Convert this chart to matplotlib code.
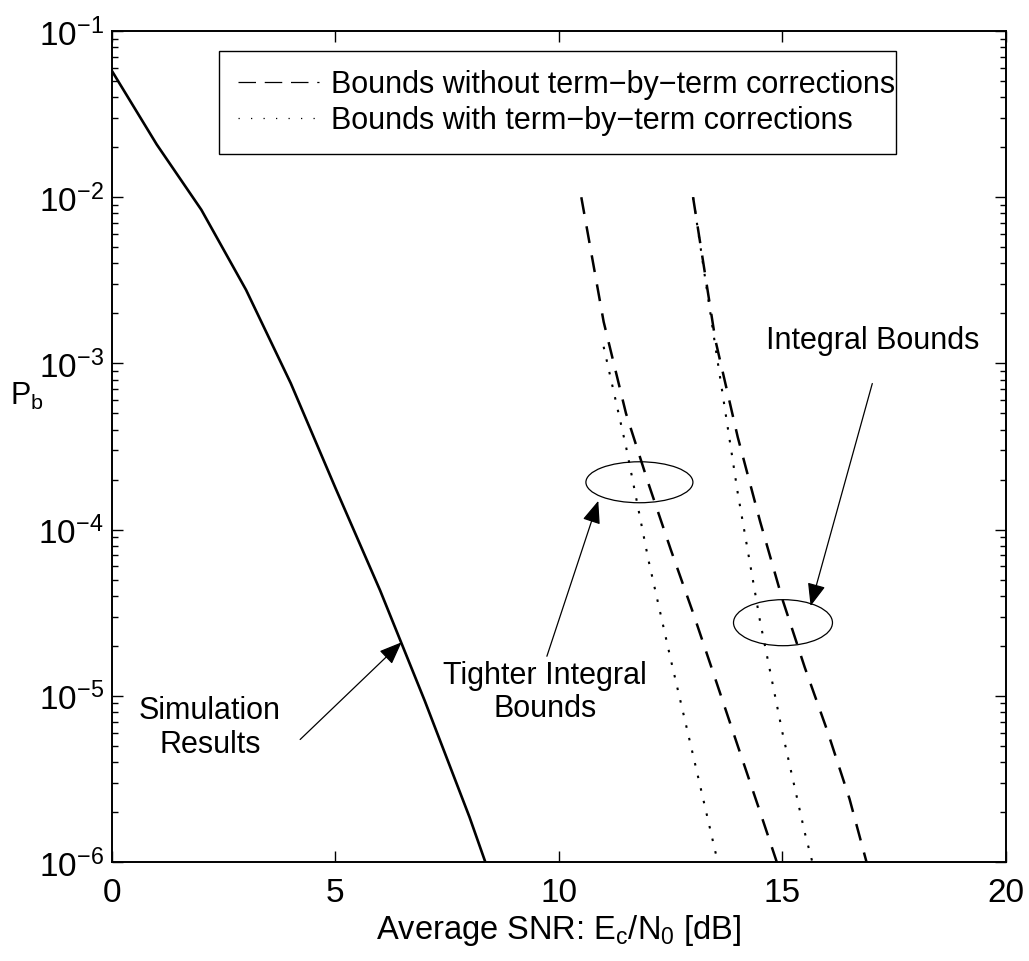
"""Bit error probability bounds vs. simulation (log-scale BER plot)."""

import matplotlib

matplotlib.use("Agg")
import matplotlib.pyplot as plt
from matplotlib.lines import Line2D
from matplotlib.patches import Ellipse

plt.rcParams["font.family"] = ["Liberation Sans", "DejaVu Sans"]
plt.rcParams["mathtext.default"] = "regular"
plt.rcParams["font.size"] = 22

# Simulation results
sim_snr = [0, 1, 2, 3, 4, 5, 6, 7, 8, 9]
sim_pb = [5.75e-2, 2.08e-2, 8.4e-3, 2.77e-3, 7.6e-4, 1.78e-4, 4.3e-5, 9.3e-6, 1.86e-6, 3.2e-7]

# Tighter integral bounds, without term-by-term corrections
tight_snr = [10.5, 11.0, 11.5, 12.0, 12.5, 13.0, 13.5, 14.0, 14.5, 15.0]
tight_pb = [1.0e-2, 1.78e-3, 5.0e-4, 1.9e-4, 7.6e-5, 3.16e-5, 1.26e-5, 5.0e-6, 2.0e-6, 7.9e-7]

# Tighter integral bounds, with term-by-term corrections
tight_corr_snr = [11.0, 11.5, 12.0, 12.5, 13.0, 13.5, 14.0]
tight_corr_pb = [1.26e-3, 3.16e-4, 6.6e-5, 1.66e-5, 4.4e-6, 1.15e-6, 3.2e-7]

# Integral bounds, without term-by-term corrections
integ_snr = [13.0, 13.5, 14.0, 14.5, 15.0, 15.5, 16.0, 16.5, 17.0]
integ_pb = [1.0e-2, 1.38e-3, 3.6e-4, 1.12e-4, 3.8e-5, 1.48e-5, 6.2e-6, 2.4e-6, 7.6e-7]

# Integral bounds, with term-by-term corrections
integ_corr_snr = [13.0, 13.5, 14.0, 14.5, 15.0, 15.5, 16.0]
integ_corr_pb = [1.0e-2, 1.26e-3, 1.66e-4, 2.8e-5, 6.0e-6, 1.5e-6, 4.5e-7]

legend_labels = [
    "Bounds without term\u2212by\u2212term corrections",
    "Bounds with term\u2212by\u2212term corrections",
]

DASH = (6.8, 5.0)
DOT = (1.2, 5.0)

fig = plt.figure(figsize=(10.29, 9.62), dpi=100)
ax = fig.add_axes([0.1088, 0.1029, 0.8688, 0.8638])

ax.semilogy(sim_snr, sim_pb, color="k", lw=1.9)
ax.semilogy(tight_snr, tight_pb, color="k", lw=1.8, dashes=DASH)
ax.semilogy(integ_snr, integ_pb, color="k", lw=1.8, dashes=DASH)
ax.semilogy(tight_corr_snr, tight_corr_pb, color="k", lw=1.5, dashes=DOT)
ax.semilogy(integ_corr_snr, integ_corr_pb, color="k", lw=1.5, dashes=DOT)

ax.set_xlim(0, 20)
ax.set_ylim(1e-6, 1e-1)
ax.set_xticks([0, 5, 10, 15, 20])
ax.tick_params(which="both", direction="in", top=True, right=True, width=1.0,
               labelsize=24)
ax.tick_params(which="major", length=8)
ax.tick_params(which="minor", length=4.5)
ax.tick_params(axis="x", pad=11)
ax.tick_params(axis="y", pad=6)
for s in ax.spines.values():
    s.set_linewidth(1.4)

ax.set_xlabel("Average SNR: E$_c$/N$_0$ [dB]", fontsize=23.5, labelpad=3)
ax.set_ylabel("P$_b$", rotation=0, ha="center", va="center")
ax.yaxis.set_label_coords(-0.095, 0.561)

# legend uses thin proxy lines like the original
proxies = [
    Line2D([], [], color="k", lw=0.9, dashes=(14, 7)),
    Line2D([], [], color="k", lw=0.9, dashes=(1, 9)),
]
leg = ax.legend(
    proxies,
    legend_labels,
    loc="upper left",
    bbox_to_anchor=(0.12, 0.856, 0.757, 0.12),
    mode="expand",
    borderaxespad=0,
    handlelength=2.65,
    handletextpad=0.42,
    labelspacing=0.2,
    borderpad=0.6,
    fancybox=False,
    framealpha=1,
    edgecolor="k",
)
leg.get_frame().set_linewidth(1.0)

# circled groups of bounds
ax.add_patch(Ellipse((0.590, 0.457), 0.1197, 0.0493, transform=ax.transAxes,
                     fill=False, lw=0.9, color="k"))
ax.add_patch(Ellipse((0.7506, 0.288), 0.1107, 0.0554, transform=ax.transAxes,
                     fill=False, lw=0.9, color="k"))

arrow = dict(arrowstyle="-|>,head_length=0.7,head_width=0.28", color="k",
             lw=0.9, shrinkA=0, shrinkB=0, mutation_scale=20)
ax.annotate("", xy=(6.48, 2.1e-5), xytext=(4.21, 5.46e-6), arrowprops=arrow)
ax.annotate("", xy=(10.88, 1.49e-4), xytext=(9.73, 1.73e-5), arrowprops=arrow)
ax.annotate("", xy=(15.63, 3.47e-5), xytext=(17.01, 7.57e-4), arrowprops=arrow)

ax.text(2.19, 6.5e-6, "Simulation\nResults", ha="center", va="center",
        linespacing=1.15)
ax.text(9.69, 1.06e-5, "Tighter Integral\nBounds", ha="center", va="center",
        linespacing=1.15)
ax.text(17.02, 1.38e-3, "Integral Bounds", ha="center", va="center")

fig.savefig("out.png", dpi=100)
